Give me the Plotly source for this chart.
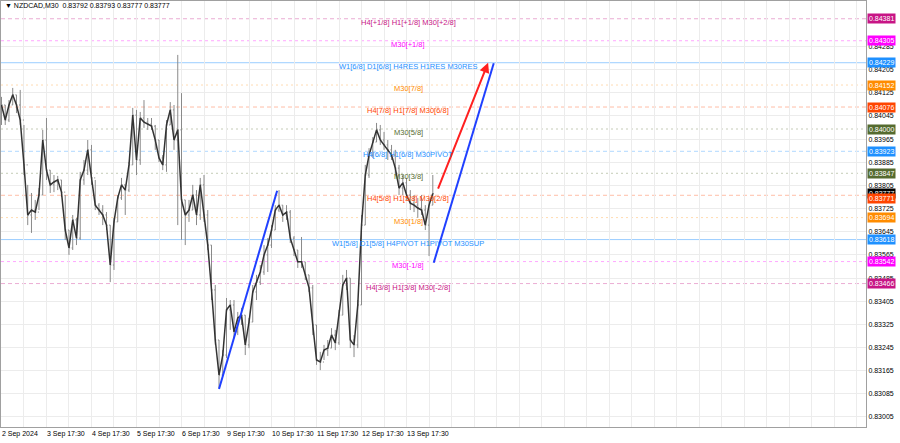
import plotly.graph_objects as go

# ---------------- data ----------------
symbol_title = "\u25BC NZDCAD,M30  0.83792 0.83793 0.83777 0.83777"
time_labels = ["2 Sep 2024", "3 Sep 17:30", "4 Sep 17:30", "5 Sep 17:30", "6 Sep 17:30",
               "9 Sep 17:30", "10 Sep 17:30", "11 Sep 17:30", "12 Sep 17:30", "13 Sep 17:30"]
bars_per_label = 48          # M30 bars between time labels
bars_per_sample = 4          # M30 bars aggregated into each drawn bar

high = [0.84111, 0.84083, 0.84100, 0.84142, 0.84118, 0.84135, 0.84014, 0.83807, 0.83779, 0.83755,
        0.83796, 0.83997, 0.84038, 0.83858, 0.83841, 0.83838, 0.83824, 0.83772, 0.83651, 0.83703,
        0.83693, 0.83852, 0.83893, 0.83962, 0.83945, 0.83824, 0.83744, 0.83737, 0.83713, 0.83668,
        0.83693, 0.83772, 0.83831, 0.83807, 0.83886, 0.84073, 0.84066, 0.84059, 0.84100, 0.84038,
        0.84038, 0.84014, 0.83962, 0.83910, 0.84031, 0.84093, 0.84083, 0.84256, 0.84124, 0.83755,
        0.83755, 0.83807, 0.83789, 0.83831, 0.83841, 0.83720, 0.83599, 0.83461, 0.83271, 0.83236,
        0.83416, 0.83409, 0.83409, 0.83368, 0.83382, 0.83357, 0.83347, 0.83461, 0.83496, 0.83530,
        0.83599, 0.83623, 0.83668, 0.83737, 0.83789, 0.83737, 0.83737, 0.83720, 0.83630, 0.83582,
        0.83627, 0.83541, 0.83496, 0.83461, 0.83323, 0.83230, 0.83254, 0.83271, 0.83312, 0.83306,
        0.83375, 0.83496, 0.83513, 0.83485, 0.83288, 0.83409, 0.83703, 0.83876, 0.83934, 0.83972,
        0.84021, 0.84014, 0.83990, 0.83962, 0.83945, 0.83928, 0.83876, 0.83841, 0.83831, 0.83789,
        0.83772, 0.83762, 0.83772, 0.83737, 0.83762, 0.83841]
low = [0.84014, 0.84014, 0.84024, 0.84083, 0.84055, 0.84014, 0.83841, 0.83668, 0.83641, 0.83686,
       0.83720, 0.83772, 0.83824, 0.83779, 0.83782, 0.83789, 0.83765, 0.83617, 0.83565, 0.83582,
       0.83599, 0.83617, 0.83807, 0.83841, 0.83807, 0.83720, 0.83703, 0.83668, 0.83651, 0.83471,
       0.83513, 0.83679, 0.83755, 0.83703, 0.83782, 0.83876, 0.83841, 0.83876, 0.84004, 0.83997,
       0.83997, 0.83928, 0.83886, 0.83858, 0.83852, 0.84014, 0.83928, 0.83668, 0.83617, 0.83599,
       0.83679, 0.83720, 0.83668, 0.83686, 0.83679, 0.83582, 0.83409, 0.83254, 0.83105, 0.83150,
       0.83209, 0.83306, 0.83278, 0.83288, 0.83323, 0.83219, 0.83243, 0.83333, 0.83409, 0.83461,
       0.83496, 0.83506, 0.83589, 0.83651, 0.83713, 0.83679, 0.83686, 0.83606, 0.83561, 0.83520,
       0.83520, 0.83478, 0.83437, 0.83288, 0.83185, 0.83167, 0.83202, 0.83216, 0.83243, 0.83236,
       0.83254, 0.83357, 0.83444, 0.83243, 0.83212, 0.83243, 0.83392, 0.83668, 0.83831, 0.83900,
       0.83955, 0.83945, 0.83928, 0.83893, 0.83893, 0.83841, 0.83772, 0.83772, 0.83755, 0.83720,
       0.83713, 0.83693, 0.83703, 0.83651, 0.83561, 0.83737]
close = [0.84083, 0.84031, 0.84083, 0.84118, 0.84083, 0.84031, 0.83876, 0.83703, 0.83720, 0.83713,
         0.83772, 0.83962, 0.83858, 0.83807, 0.83817, 0.83824, 0.83782, 0.83651, 0.83589, 0.83686,
         0.83623, 0.83824, 0.83858, 0.83928, 0.83831, 0.83737, 0.83720, 0.83703, 0.83668, 0.83530,
         0.83679, 0.83762, 0.83807, 0.83789, 0.83876, 0.84048, 0.83893, 0.84038, 0.84024, 0.84017,
         0.84010, 0.83962, 0.83900, 0.83876, 0.84014, 0.84066, 0.83962, 0.83997, 0.83755, 0.83703,
         0.83720, 0.83772, 0.83703, 0.83807, 0.83703, 0.83599, 0.83444, 0.83271, 0.83150, 0.83219,
         0.83375, 0.83392, 0.83299, 0.83347, 0.83357, 0.83254, 0.83333, 0.83437, 0.83471, 0.83506,
         0.83565, 0.83599, 0.83651, 0.83720, 0.83737, 0.83703, 0.83713, 0.83623, 0.83582, 0.83541,
         0.83541, 0.83496, 0.83451, 0.83323, 0.83202, 0.83195, 0.83236, 0.83243, 0.83288, 0.83261,
         0.83357, 0.83461, 0.83485, 0.83271, 0.83254, 0.83392, 0.83668, 0.83841, 0.83910, 0.83955,
         0.83997, 0.83962, 0.83945, 0.83928, 0.83910, 0.83865, 0.83796, 0.83814, 0.83772, 0.83744,
         0.83737, 0.83727, 0.83720, 0.83668, 0.83737, 0.83777]
first_open = 0.84100
current_price = 0.83777

level_prices = [0.84381, 0.84305, 0.84229, 0.84152, 0.84076, 0.84000, 0.83923,
                0.83847, 0.83771, 0.83694, 0.83618, 0.83542, 0.83466]
level_texts = ["H4[+1/8] H1[+1/8] M30[+2/8]", "M30[+1/8]", "W1[6/8] D1[6/8] H4RES H1RES M30RES",
               "M30[7/8]", "H4[7/8] H1[7/8] M30[6/8]", "M30[5/8]", "H4[6/8] H1[6/8] M30PIVOT",
               "M30[3/8]", "H4[5/8] H1[5/8] M30[2/8]", "M30[1/8]",
               "W1[5/8] D1[5/8] H4PIVOT H1PIVOT M30SUP", "M30[-1/8]", "H4[3/8] H1[3/8] M30[-2/8]"]

# trend lines (bar index, price)
blue1_x = [232, 294]
blue1_y = [0.83102, 0.83787]
blue2_x = [461, 525]
blue2_y = [0.83538, 0.84227]
red_x = [465, 519]
red_y = [0.83789, 0.84229]

tick_start, tick_step, tick_count = 0.83005, 0.0008, 17

# ---------------- styles ----------------
level_colors = ["#c71585", "#ff00ff", "#1e90ff", "#ff8c00", "#ff4500", "#556b2f", "#1e90ff",
                "#556b2f", "#ff4500", "#ff8c00", "#1e90ff", "#ff00ff", "#c71585"]
level_dash = ["4px,3px", "3px,3px", "solid", "2px,3px", "4px,3px", "2px,3px", "4px,3px",
              "2px,3px", "4px,3px", "2px,3px", "solid", "3px,3px", "4px,3px"]
level_alpha = [0.35, 0.35, 0.45, 0.30, 0.35, 0.35, 0.35, 0.35, 0.35, 0.30, 0.45, 0.35, 0.35]
FONT = "Liberation Sans, Arial, sans-serif"


def rgba(hexc, a):
    h = hexc.lstrip("#")
    return "rgba(%d,%d,%d,%.2f)" % (int(h[0:2], 16), int(h[2:4], 16), int(h[4:6], 16), a)


xs = [i * bars_per_sample for i in range(len(close))]
opens = [first_open] + close[:-1]

fig = go.Figure()
fig.add_trace(go.Ohlc(x=xs, open=opens, high=high, low=low, close=close,
                      increasing=dict(line=dict(color="#8a8a8a", width=1)),
                      decreasing=dict(line=dict(color="#8a8a8a", width=1)),
                      tickwidth=0.3, hoverinfo="skip", showlegend=False))
fig.add_trace(go.Scatter(x=xs, y=close, mode="lines",
                         line=dict(color="#333333", width=1.5),
                         hoverinfo="skip", showlegend=False))

shapes = []
for p, c, d, a in zip(level_prices, level_colors, level_dash, level_alpha):
    shapes.append(dict(type="line", xref="paper", x0=0, x1=1, yref="y", y0=p, y1=p,
                       line=dict(color=rgba(c, a), width=1, dash=d), layer="below"))
for tx, ty in ((blue1_x, blue1_y), (blue2_x, blue2_y)):
    shapes.append(dict(type="line", xref="x", yref="y", x0=tx[0], y0=ty[0], x1=tx[1], y1=ty[1],
                       line=dict(color="#2040ff", width=2)))

annotations = []
# red arrow
annotations.append(dict(x=red_x[1], y=red_y[1], ax=red_x[0], ay=red_y[0],
                        xref="x", yref="y", axref="x", ayref="y", text="",
                        showarrow=True, arrowhead=2, arrowsize=1, arrowwidth=2,
                        arrowcolor="#ff2020"))
# level texts in the chart
for p, t, c in zip(level_prices, level_texts, level_colors):
    annotations.append(dict(x=434, y=p, xref="x", yref="y", text=t, showarrow=False,
                            xanchor="center", yanchor="middle", yshift=-3.5,
                            font=dict(family=FONT, size=7.5, color=c)))
# current price box (black) then level boxes on price axis
annotations.append(dict(x=1, y=current_price, xref="paper", yref="y", xanchor="left",
                        xshift=1, text="%.5f" % current_price, showarrow=False,
                        bgcolor="#000000", borderpad=1,
                        font=dict(family=FONT, size=7, color="white")))
for p, c in zip(level_prices, level_colors):
    shift = -3 if abs(p - current_price) < 0.0002 else 0
    annotations.append(dict(x=1, y=p, xref="paper", yref="y", xanchor="left", xshift=1,
                            yshift=shift, text="%.5f" % p, showarrow=False, bgcolor=c,
                            borderpad=1, font=dict(family=FONT, size=7, color="white")))
# title
annotations.append(dict(x=0, y=1, xref="paper", yref="paper", xanchor="left", yanchor="top",
                        xshift=2, yshift=1, text=symbol_title, showarrow=False,
                        font=dict(family=FONT, size=7, color="#000000")))

x_tickvals = list(range(0, 923, bars_per_label // 2))
x_ticktext = []
for v in x_tickvals:
    if v % bars_per_label == 0 and v // bars_per_label < len(time_labels):
        x_ticktext.append(time_labels[v // bars_per_label])
    else:
        x_ticktext.append("")

y_tickvals = [round(tick_start + tick_step * k, 5) for k in range(tick_count)]
y_ticktext = ["%.5f" % v for v in y_tickvals]

fig.update_layout(
    width=900, height=443,
    margin=dict(l=1, r=34, t=1, b=16),
    paper_bgcolor="white", plot_bgcolor="white",
    shapes=shapes, annotations=annotations, showlegend=False,
    font=dict(family=FONT, size=7, color="#000000"),
    xaxis=dict(range=[-0.5, 922], tickmode="array", tickvals=x_tickvals, ticktext=x_ticktext,
               ticklabelposition="outside right", tickangle=0, automargin=False,
               showgrid=True, gridcolor="#ececec",
               gridwidth=1, zeroline=False, showline=True, linecolor="#a0a0a0",
               mirror=True, rangeslider=dict(visible=False),
               tickfont=dict(family=FONT, size=7, color="#000000")),
    yaxis=dict(range=[0.829704, 0.844423], side="right", tickmode="array",
               tickvals=y_tickvals, ticktext=y_ticktext, showgrid=True, automargin=False,
               gridcolor="#ececec", gridwidth=1, zeroline=False, showline=True,
               linecolor="#a0a0a0", mirror=True,
               tickfont=dict(family=FONT, size=7, color="#000000")),
)

fig.write_html("out.html", config={"displayModeBar": False},
               post_script="document.body.style.margin='0';document.body.style.overflow='hidden';")
